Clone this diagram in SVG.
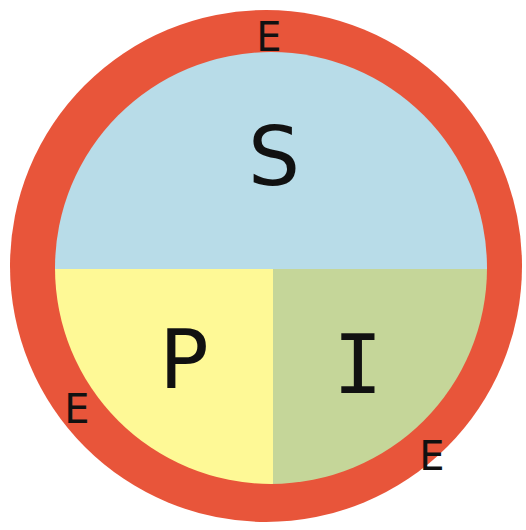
<svg xmlns="http://www.w3.org/2000/svg" width="526" height="530" viewBox="0 0 526 530">
<style>
.lbl{font-family:"DejaVu Sans","Liberation Sans",sans-serif;fill:#111;text-anchor:middle}
.mono{font-family:"DejaVu Sans Mono","Liberation Mono",monospace}
.big{font-size:82px}
.e{font-size:40px}
</style>
<defs>
<clipPath id="inner"><circle cx="271" cy="268" r="216"/></clipPath>
</defs>
<rect width="526" height="530" fill="#ffffff"/>
<g id="ring"><circle cx="266" cy="266" r="256" fill="#E8553A"/></g>
<g clip-path="url(#inner)">
<g id="S"><rect x="40" y="40" width="460" height="229" fill="#B8DCE8"/></g>
<g id="P"><rect x="40" y="269" width="233" height="230" fill="#FEF996"/></g>
<g id="I"><rect x="273" y="269" width="230" height="230" fill="#C5D699"/></g>
</g>
<g id="labels">
<text class="lbl big" x="274" y="185">S</text>
<text class="lbl big" x="184" y="388">P</text>
<text class="lbl big mono" x="358" y="393">I</text>
<text class="lbl e" x="269" y="51">E</text>
<text class="lbl e" x="77" y="423">E</text>
<text class="lbl e" x="432" y="470">E</text>
</g>
</svg>
